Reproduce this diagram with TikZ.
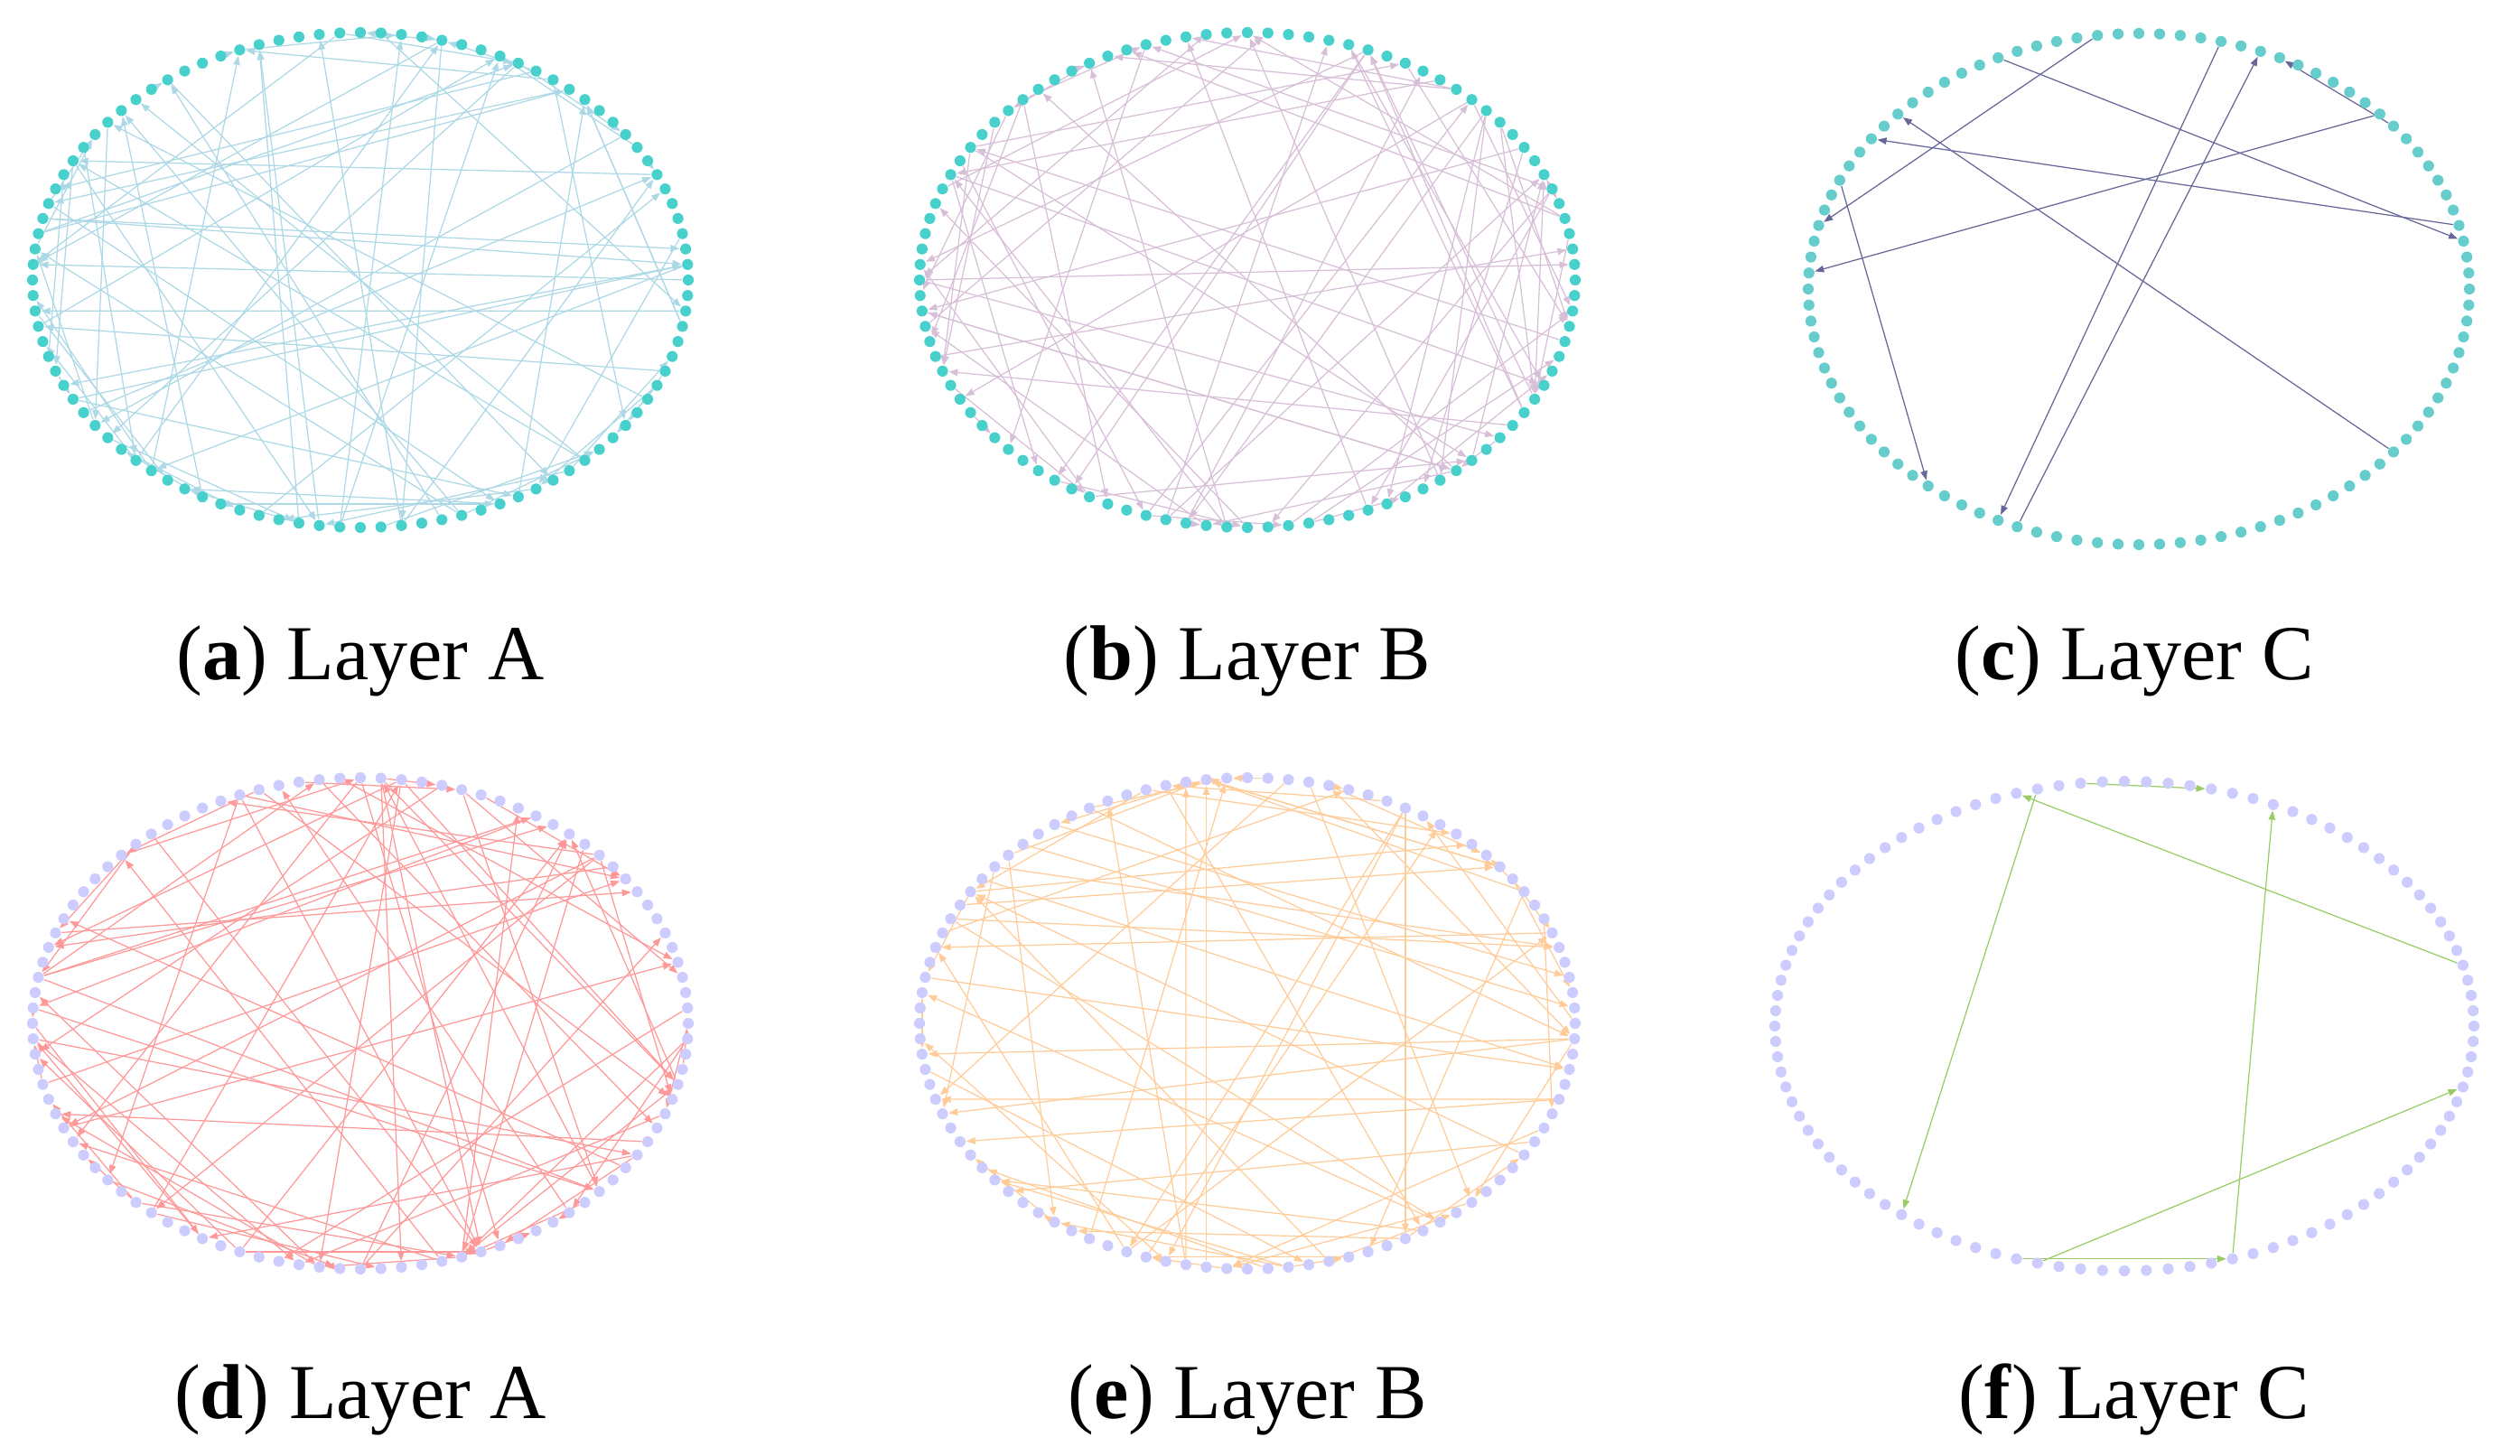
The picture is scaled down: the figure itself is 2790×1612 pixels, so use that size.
\documentclass[tikz,border=0pt]{standalone}
\usepackage{fontspec}
\setmainfont{Liberation Serif}
\usetikzlibrary{arrows.meta}
\definecolor{turq}{HTML}{48D1CC}
\definecolor{turqc}{HTML}{66CCCC}
\definecolor{peri}{HTML}{CCCCFF}
\definecolor{edgeA}{HTML}{ADD8E6}
\definecolor{edgeB}{HTML}{D8BFD8}
\definecolor{edgeC}{HTML}{666699}
\definecolor{edgeD}{HTML}{FF9999}
\definecolor{edgeE}{HTML}{FFCC99}
\definecolor{edgeF}{HTML}{99CC66}
\pgfdeclarelayer{bg}
\pgfsetlayers{bg,main}
\tikzset{
  vtx/.style={circle, inner sep=0pt, minimum size=0.122cm, draw=none},
  vtxA/.style={vtx, fill=turq},
  vtxC/.style={vtx, fill=turqc},
  vtxD/.style={vtx, fill=peri},
  edgebase/.style={line width=0.35pt, -{Triangle[length=0.1cm,width=0.075cm]}},
  edgeAs/.style={edgebase, draw=edgeA, fill=edgeA},
  edgeBs/.style={edgebase, draw=edgeB, fill=edgeB},
  edgeCs/.style={edgebase, draw=edgeC, fill=edgeC},
  edgeDs/.style={edgebase, draw=edgeD, fill=edgeD},
  edgeEs/.style={edgebase, draw=edgeE, fill=edgeE},
  edgeFs/.style={edgebase, draw=edgeF, fill=edgeF},
  lab/.style={anchor=base, inner sep=0pt, font=\fontsize{24.5}{29}\selectfont}
}
\newcommand\drawring[6]{%
  \foreach \k in {0,...,99}{
    \node[#6] (#1-\k) at ({#2+#4*cos(3.6*\k)},{#3-#5*sin(3.6*\k)}) {};
  }}
\newcommand\randedges[4]{%
  \pgfmathsetseed{#2}
  \foreach \e in {1,...,#3}{
    \pgfmathtruncatemacro\s{random(0,99)}
    \pgfmathtruncatemacro\t{random(0,99)}
    \ifnum\s=\t \pgfmathtruncatemacro\t{mod(\t+50,100)}\fi
    \draw[#4] (#1-\s) -- (#1-\t);
  }}
\begin{document}
\begin{tikzpicture}[x=0.01cm,y=-0.01cm]
\useasboundingbox (0,0) rectangle (2790,1612);
% rings
\drawring{a}{399}{310}{363}{274}{vtxA}
\drawring{b}{1381}{310}{363}{274}{vtxA}
\drawring{c}{2368}{320}{366}{283}{vtxC}
\drawring{d}{399}{1133}{363}{272}{vtxD}
\drawring{e}{1381}{1133}{363}{272}{vtxD}
\drawring{f}{2352}{1136}{387}{271}{vtxD}
% edges
\begin{pgfonlayer}{bg}
\randedges{a}{11}{82}{edgeAs}
\randedges{b}{27}{78}{edgeBs}
\foreach \s/\t in {27/46,21/68,69/19,12/49,11/18,32/3,4/40,89/38,43/64}
  \draw[edgeCs] (c-\s) -- (c-\t);
\randedges{d}{53}{80}{edgeDs}
\randedges{e}{71}{74}{edgeEs}
\foreach \s/\t in {27/21,4/30,29/64,80/18,70/80,71/96}
  \draw[edgeFs] (f-\s) -- (f-\t);
\end{pgfonlayer}
% labels
\node[lab] (la) at (399,752) {(\textbf{a}) Layer A};
\node[lab] (lb) at (1381,752) {(\textbf{b}) Layer B};
\node[lab] (lc) at (2363,752) {(\textbf{c}) Layer C};
\node[lab] (ld) at (399,1570) {(\textbf{d}) Layer A};
\node[lab] (le) at (1381,1570) {(\textbf{e}) Layer B};
\node[lab] (lf) at (2363,1570) {(\textbf{f}) Layer C};
\end{tikzpicture}
\end{document}
